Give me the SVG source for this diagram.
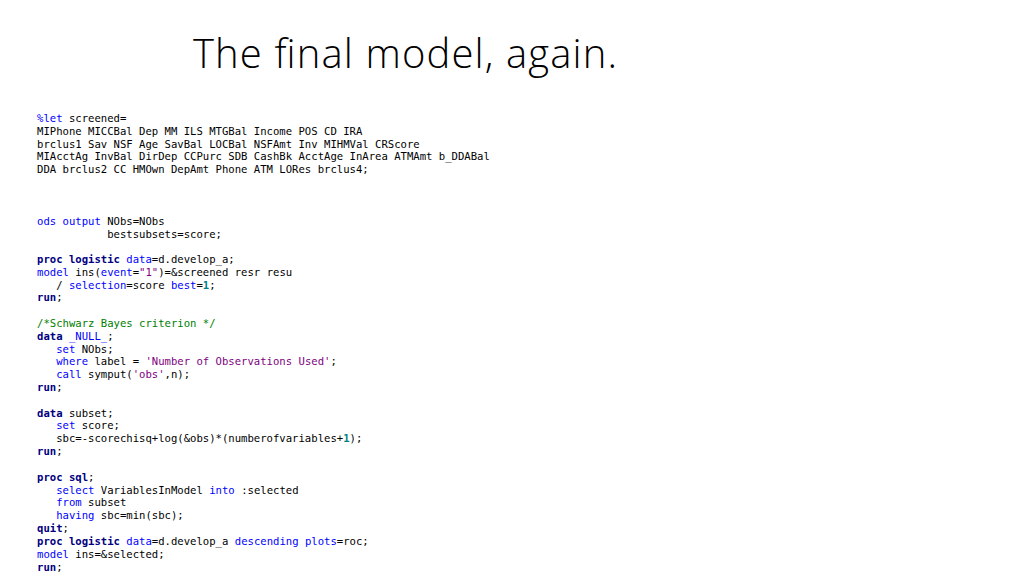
<svg xmlns="http://www.w3.org/2000/svg" width="1024" height="576" viewBox="0 0 1024 576">
<style>
text{font-family:"DejaVu Sans Mono","Liberation Mono",monospace;font-size:10.6px;fill:#000;white-space:pre}
.k{fill:#000080;font-weight:bold}
.b{fill:#0000ff}
.s{fill:#800080}
.n{fill:#008080;font-weight:bold}
.c{fill:#008000}
.t{font-family:"Open Sans","Liberation Sans",sans-serif;font-weight:300;font-size:40px}
</style>
<rect width="1024" height="576" fill="#fff"/>
<g id="title"><text class="t" x="193" y="68" textLength="424">The final model, again.</text></g>
<g id="code" xml:space="preserve">
<text x="37" y="122"><tspan class="b">%let</tspan> screened=</text>
<text x="37" y="135">MIPhone MICCBal Dep MM ILS MTGBal Income POS CD IRA</text>
<text x="37" y="148">brclus1 Sav NSF Age SavBal LOCBal NSFAmt Inv MIHMVal CRScore</text>
<text x="37" y="160">MIAcctAg InvBal DirDep CCPurc SDB CashBk AcctAge InArea ATMAmt b_DDABal</text>
<text x="37" y="173">DDA brclus2 CC HMOwn DepAmt Phone ATM LORes brclus4;</text>
<text x="37" y="225"><tspan class="b">ods output</tspan> NObs=NObs</text>
<text x="37" y="238">           bestsubsets=score;</text>
<text x="37" y="263"><tspan class="k">proc logistic</tspan> <tspan class="b">data</tspan>=d.develop_a;</text>
<text x="37" y="276"><tspan class="b">model</tspan> ins(<tspan class="b">event</tspan>=<tspan class="s">"1"</tspan>)=&amp;screened resr resu</text>
<text x="37" y="289">   / <tspan class="b">selection</tspan>=score <tspan class="b">best</tspan>=<tspan class="n">1</tspan>;</text>
<text x="37" y="301"><tspan class="k">run</tspan>;</text>
<text x="37" y="327" class="c">/*Schwarz Bayes criterion */</text>
<text x="37" y="340"><tspan class="k">data</tspan> <tspan class="b">_NULL_</tspan>;</text>
<text x="37" y="353">   <tspan class="b">set</tspan> NObs;</text>
<text x="37" y="365">   <tspan class="b">where</tspan> label = <tspan class="s">'Number of Observations Used'</tspan>;</text>
<text x="37" y="378">   <tspan class="b">call</tspan> symput(<tspan class="s">'obs'</tspan>,n);</text>
<text x="37" y="391"><tspan class="k">run</tspan>;</text>
<text x="37" y="417"><tspan class="k">data</tspan> subset;</text>
<text x="37" y="429">   <tspan class="b">set</tspan> score;</text>
<text x="37" y="442">   sbc=-scorechisq+log(&amp;obs)*(numberofvariables+<tspan class="n">1</tspan>);</text>
<text x="37" y="455"><tspan class="k">run</tspan>;</text>
<text x="37" y="481"><tspan class="k">proc sql</tspan>;</text>
<text x="37" y="494">   <tspan class="b">select</tspan> VariablesInModel <tspan class="b">into</tspan> :selected</text>
<text x="37" y="506">   <tspan class="b">from</tspan> subset</text>
<text x="37" y="519">   <tspan class="b">having</tspan> sbc=min(sbc);</text>
<text x="37" y="532"><tspan class="k">quit</tspan>;</text>
<text x="37" y="545"><tspan class="k">proc logistic</tspan> <tspan class="b">data</tspan>=d.develop_a <tspan class="b">descending</tspan> <tspan class="b">plots</tspan>=roc;</text>
<text x="37" y="558"><tspan class="b">model</tspan> ins=&amp;selected;</text>
<text x="37" y="571"><tspan class="k">run</tspan>;</text>
</g>
</svg>
